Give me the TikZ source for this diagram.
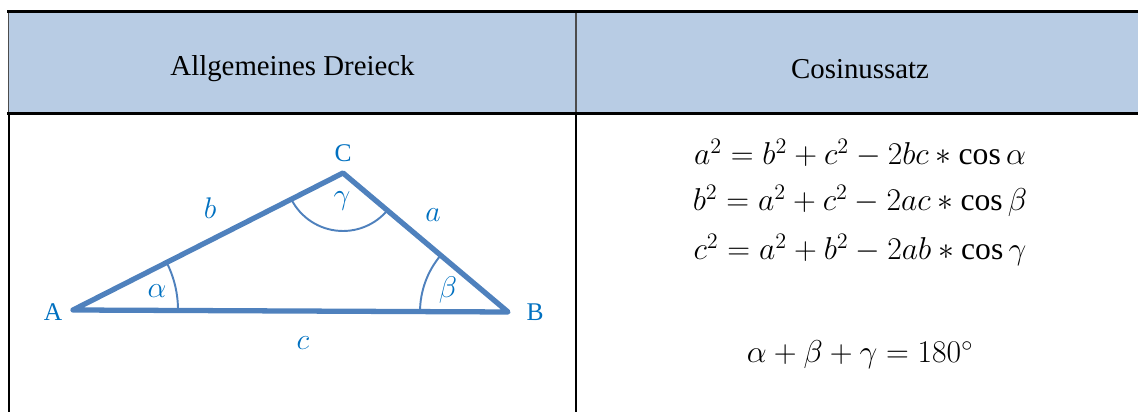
\RequirePackage{fix-cm}
\documentclass[tikz,border=0pt]{standalone}
\usepackage{fontspec}
\setmainfont{Liberation Serif}
\usetikzlibrary{angles}
\definecolor{kopf}{HTML}{B8CCE4}
\definecolor{linie}{HTML}{4F81BD}
\definecolor{etikett}{HTML}{0070C0}
\tikzset{
  tabelle/.style={line width=1.4pt},
  trenner/.style={line width=0.8pt, draw=black!70},
  seite/.style={draw=linie, line width=3pt, line join=round, line cap=round},
  winkel/.style={draw=linie, line width=1.1pt},
  ecke/.style={text=etikett, font=\fontsize{14.5}{17}\selectfont},
  kante/.style={text=etikett, font=\fontsize{17}{20}\selectfont},
  titel/.style={font=\fontsize{16.4}{19}\selectfont},
  formel/.style={font=\fontsize{18}{21}\selectfont}
}
\begin{document}
\begin{tikzpicture}
    \useasboundingbox (0,0) rectangle (22.76,8.24);
    % Kopfzeile
    \fill[kopf] (0.18,5.97) rectangle (23,8.01);
    \draw[trenner] (0.17,8.01) -- (0.17,5.97);
    \draw[trenner] (11.52,8.01) -- (11.52,5.97);
    \draw[tabelle] (0.14,8.01) -- (23,8.01);
    \draw[tabelle] (0.14,5.97) -- (23,5.97);
    \foreach \x in {0.18,11.52} {
        \draw[tabelle] (\x,5.97) -- (\x,0);
    }
    \node[titel] (kopfL) at (5.85,6.86) {Allgemeines Dreieck};
    \node[titel] (kopfR) at (17.2,6.86) {Cosinussatz};
    % Dreieck
    \coordinate (A) at (1.46,2.04);
    \coordinate (B) at (10.16,2.0);
    \coordinate (C) at (6.86,4.78);
    \pic[winkel, angle radius=2.1cm] {angle=B--A--C};
    \pic[winkel, angle radius=1.76cm] {angle=C--B--A};
    \pic[winkel, angle radius=1.16cm] {angle=A--C--B};
    \draw[seite] (A) -- (B) -- (C) -- cycle;
    \node[ecke] (lblA) at (1.06,2.0) {A};
    \node[ecke] (lblB) at (10.7,2.0) {B};
    \node[ecke] (lblC) at (6.86,5.18) {C};
    \node[kante] (lbla) at (8.66,3.94) {$a$};
    \node[kante] (lblb) at (4.2,4.08) {$b$};
    \node[kante] (lblc) at (6.06,1.38) {$c$};
    \node[kante] (lblal) at (3.14,2.42) {$\alpha$};
    \node[kante] (lblbe) at (8.96,2.44) {$\beta$};
    \node[kante] (lblga) at (6.84,4.22) {$\gamma$};
    % Formeln
    \foreach \n/\y/\f in {fa/5.18/{a^2 = b^2 + c^2 - 2bc \ast \cos\alpha},
                          fb/4.22/{b^2 = a^2 + c^2 - 2ac \ast \cos\beta},
                          fc/3.24/{c^2 = a^2 + b^2 - 2ab \ast \cos\gamma},
                          fw/1.14/{\alpha + \beta + \gamma = 180^\circ}} {
        \node[formel] (\n) at (17.2,\y) {$\f$};
    }
\end{tikzpicture}
\end{document}
